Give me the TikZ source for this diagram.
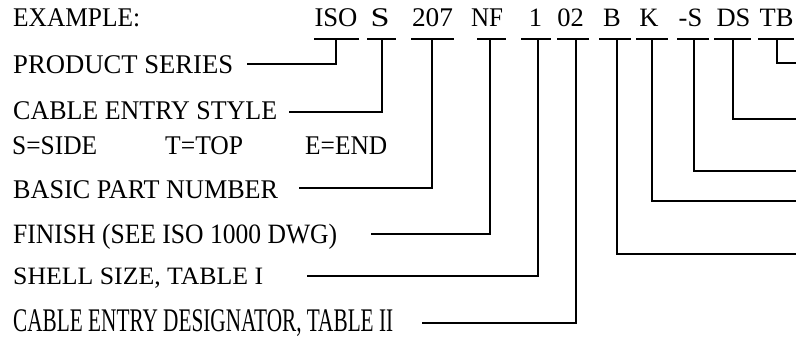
\documentclass[tikz,border=0pt]{standalone}
\usepackage{fontspec}
\setmainfont{Liberation Serif}
\usepackage{graphicx}
\newcommand\fitT[3]{\resizebox{#2pt}{\height}{\fontsize{#1pt}{#1pt}\selectfont #3}}
\tikzset{
  code/.style={anchor=base, inner sep=0pt, font=\fontsize{26.5pt}{26.5pt}\selectfont},
  lbl/.style={anchor=base west, inner sep=0pt},
  wire/.style={line width=2pt, line cap=rect, black},
}
\begin{document}
\begin{tikzpicture}[x=1pt,y=-1pt]
\useasboundingbox (0,0) rectangle (796,337);
\clip (0,0) rectangle (796,337);
% example line
\node[lbl] (ex) at (13,26.5) {\fitT{27}{127}{EXAMPLE:}};
\node[code] (cISO) at (336,26.5) {\fitT{27}{43}{ISO}};
\node[code] (cS) at (380,26.5) {\fitT{27}{19}{S}};
\node[code] (c207) at (432.5,26.5) {\fitT{27}{41}{207}};
\node[code] (cNF) at (487,26.5) {\fitT{27}{32}{NF}};
\node[code] (c1) at (535.5,26.5) {1};
\node[code] (c02) at (570.5,26.5) {02};
\node[code] (cB) at (612,26.5) {B};
\node[code] (cK) at (649,26.5) {K};
\node[code] (cmS) at (690.5,26.5) {-S};
\node[code] (cDS) at (733.5,26.5) {DS};
\node[code] (cTB) at (776.5,26.5) {TB};
% labels
\node[lbl] (lPS) at (13,73.5) {\fitT{27}{220}{PRODUCT SERIES}};
\node[lbl] (lCES) at (13,120) {\fitT{27}{264}{CABLE ENTRY STYLE}};
\node[lbl] (lSS) at (12,154) {\fitT{27}{85}{S=SIDE}};
\node[lbl] (lTT) at (165,154) {\fitT{27}{78}{T=TOP}};
\node[lbl] (lEE) at (305,154) {\fitT{27}{82}{E=END}};
\node[lbl] (lBPN) at (13,198) {\fitT{27}{265}{BASIC PART NUMBER}};
\node[lbl] (lFIN) at (13,243) {\fitT{28}{324}{FINISH (SEE ISO 1000 DWG)}};
\node[lbl] (lSH) at (13,284) {\fitT{25}{250}{SHELL SIZE, TABLE I}};
\node[lbl] (lCED) at (13,331) {\fitT{33}{380}{CABLE ENTRY DESIGNATOR, TABLE II}};
% bars under codes
\foreach \n/\a/\b/\m in {ISO/315/358/336, S/368/395/381.5, 207/412/453/432, NF/478/505/490, 1/522/550/538, 02/558/588/576, B/600/630/617, K/637/667/652, mS/678/708/694, DS/715/750/733, TB/759/793/777}{
  \coordinate (bL\n) at (\a,39);
  \coordinate (bR\n) at (\b,39);
  \coordinate (bM\n) at (\m,39);
  \draw[wire] (bL\n) -- (bR\n);
}
% free ends of leaders
\coordinate (ePS) at (248,64);
\coordinate (eCES) at (290,112);
\coordinate (eBPN) at (300,188);
\coordinate (eFIN) at (372,234);
\coordinate (eSH) at (308,276);
\coordinate (eCED) at (423,323);
\coordinate (eB) at (800,254);
\coordinate (eK) at (800,201);
\coordinate (emS) at (800,171);
\coordinate (eDS) at (800,119);
\coordinate (eTB) at (800,63);
% leaders
\draw[wire] (bMISO) |- (ePS);
\draw[wire] (bMS) |- (eCES);
\draw[wire] (bM207) |- (eBPN);
\draw[wire] (bMNF) |- (eFIN);
\draw[wire] (bM1) |- (eSH);
\draw[wire] (bM02) |- (eCED);
\draw[wire] (bMB) |- (eB);
\draw[wire] (bMK) |- (eK);
\draw[wire] (bMmS) |- (emS);
\draw[wire] (bMDS) |- (eDS);
\draw[wire] (bMTB) |- (eTB);
\end{tikzpicture}
\end{document}
